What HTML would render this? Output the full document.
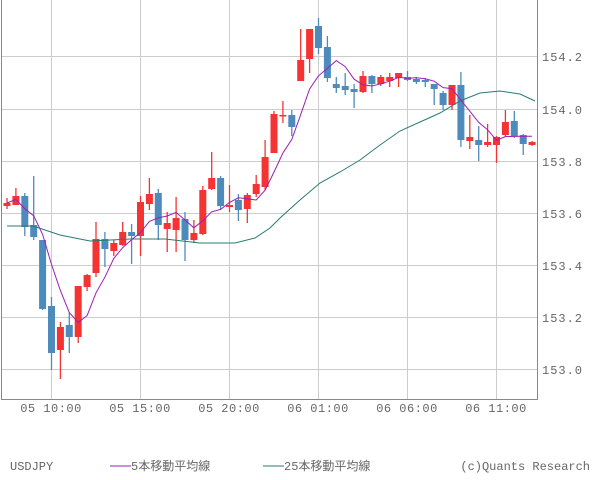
<!DOCTYPE html>
<html><head><meta charset="utf-8"><style>
body{margin:0;background:#fff;width:600px;height:475px;overflow:hidden}
svg text{font-family:"Liberation Mono","Noto Sans CJK JP",monospace;fill:#666;font-size:12px}
</style></head><body>
<svg id="s" width="600" height="475" xmlns="http://www.w3.org/2000/svg"></svg>
<script>
const s=document.getElementById('s');let h='';
// grid
[51,140,229,318,407,496].forEach(x=>h+=`<line x1="${x}.5" y1="0" x2="${x}.5" y2="399" stroke="#ccc"/>`);
const yl=[[56,'154.2'],[109,'154.0'],[161,'153.8'],[213,'153.6'],[265,'153.4'],[317,'153.2'],[369,'153.0']];
yl.forEach(a=>{h+=`<line x1="1" y1="${a[0]}.5" x2="537" y2="${a[0]}.5" stroke="#ccc"/>`;h+=`<text x="542" y="${a[0]+5}" font-size="13" letter-spacing="1">${a[1]}</text>`;});
h+=`<polyline points="1.5,0 1.5,399.5 537.5,399.5 537.5,0" fill="none" stroke="#888"/>`;
[[51,'05 10:00'],[140,'05 15:00'],[229,'05 20:00'],[318,'06 01:00'],[407,'06 06:00'],[496,'06 11:00']].forEach(a=>h+=`<text x="${a[0]}" y="412" text-anchor="middle" letter-spacing="0.5">${a[1]}</text>`);
// candles: [color(1 red up,0 blue down), bodyTop, bodyBot, wickTop, wickBot]
const c=[[1,203,206,198,209],[1,196,205,188,205],[0,196,227,193,236],[0,225,237,176,240],[0,240,309,240,310],[0,306,353,297,370],[1,327,350,322,379],[0,325,337,313,353],[1,286,337,286,343],[1,275,287,274,291],[1,239,273,222,277],[0,239,249,232,267],[1,243,251,240,256],[1,232,245,222,246],[0,232,236,224,264],[1,202,236,196,256],[1,194,204,178,210],[0,193,225,189,240],[1,223,229,212,252],[1,218,230,197,252],[0,219,240,212,261],[1,233,240,220,243],[1,190,234,186,235],[1,178,189,152,190],[0,178,206,176,210],[1,205,207,185,212],[0,200,210,194,221],[1,195,209,193,223],[1,184,194,175,197],[1,157,187,140,190],[1,114,153,111,153],[1,115,116,101,123],[0,115,127,110,136],[1,60,81,29,81],[1,29,59,29,73],[0,26,48,18,54],[0,47,78,36,82],[0,84,88,77,93],[0,86,90,73,95],[0,89,92,84,108],[1,76,92,71,93],[0,76,84,75,93],[1,77,84,75,86],[1,77,81,73,87],[1,73,78,73,87],[0,77,80,71,81],[0,79,82,77,84],[0,80,82,78,87],[0,84,89,84,105],[0,93,105,91,110],[1,85,105,85,110],[0,85,140,72,147],[1,137,141,115,149],[0,140,145,126,161],[1,142,145,124,147],[1,137,145,136,163],[1,122,135,110,137],[0,121,136,111,138],[0,135,144,134,155],[1,142,145,141,146]];
const closes=[];
c.forEach((d,i)=>{const x=7+8.9*i;const col=d[0]?'#f53333':'#4d8bbd';
h+=`<line x1="${x}" y1="${d[3]}" x2="${x}" y2="${d[4]}" stroke="${col}" stroke-width="1.3"/>`;
h+=`<rect x="${x-3.5}" y="${d[1]}" width="7" height="${Math.max(1.5,d[2]-d[1])}" fill="${col}"/>`;
closes.push(d[0]?d[1]:d[2]);});
// 25MA
const m25="7,226 33,226 45,230 60,235 90,241 130,239 165,239 200,243 235,243 255,238 270,228 280,218 300,200 320,183 340,172 360,160 380,145 400,131 420,122 440,113 460,101 480,93 500,91 520,94 535,101";
h+=`<polyline points="${m25}" fill="none" stroke="#2a7a72" stroke-width="1"/>`;
let p=[];closes.forEach((v,i)=>{const a=closes.slice(Math.max(0,i-4),i+1);p.push((7+8.9*i)+','+(a.reduce((x,y)=>x+y,0)/a.length).toFixed(1));});
h+=`<polyline points="${p.join(' ')}" fill="none" stroke="#9a1fb5" stroke-width="1"/>`;
// legend
h+=`<text x="10" y="470">USDJPY</text>`;
h+=`<line x1="110" y1="466" x2="131" y2="466" stroke="#9a1fb5"/><text x="131" y="470">5本移動平均線</text>`;
h+=`<line x1="263" y1="466" x2="284" y2="466" stroke="#2a7a72"/><text x="284" y="470">25本移動平均線</text>`;
h+=`<text x="590" y="470" text-anchor="end">(c)Quants Research</text>`;
s.innerHTML=h;
</script>
</body></html>
